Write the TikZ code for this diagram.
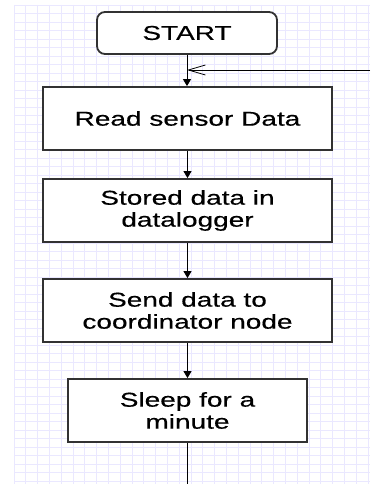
\documentclass[tikz,border=0pt]{standalone}
\usepackage{fontspec}
\usetikzlibrary{arrows.meta}
\newfontfamily\lab[FakeStretch=1.4,FakeBold=0.4]{Liberation Sans}
\definecolor{gridc}{RGB}{234,232,255}
\definecolor{boxc}{RGB}{50,50,50}
\tikzset{
  box/.style={draw=boxc, line width=1.8pt, fill=white, minimum height=63pt, inner sep=0pt, align=center,
    font=\lab\fontsize{20}{22}\selectfont},
  flow/.style={line width=0.9pt, -{Triangle[length=7pt,width=8pt]}},
  plain/.style={line width=0.9pt},
  back/.style={line width=0.8pt, -{Straight Barb[length=17pt,width=10pt,line width=0.8pt]}}
}
\begin{document}
\begin{tikzpicture}[x=1pt,y=-1pt]
\useasboundingbox (0,0) rectangle (370,484);
\fill[white] (0,0) rectangle (370,484);
% grid
\foreach \i in {0,...,30} { \draw[gridc, line width=0.7pt] (14+11.8*\i,5) -- (14+11.8*\i,484); }
\foreach \j in {0,...,56} { \draw[gridc, line width=0.7pt] (14,5+8.5*\j) -- (370,5+8.5*\j); }
% nodes
\node[box, rounded corners=8pt, minimum width=180pt, minimum height=42pt] (start) at (187,33) {START};
\node[box, minimum width=289pt] (read) at (187.5,118.5) {Read sensor Data};
\node[box, minimum width=289pt] (store) at (187.5,210.5) {Stored data in\\datalogger};
\node[box, minimum width=289pt] (send) at (187.5,310.5) {Send data to\\coordinator node};
\node[box, minimum width=239pt] (sleep) at (187.5,410.5) {Sleep for a\\minute};
\coordinate (join) at (187,70);
\coordinate (loopin) at (370,70);
\coordinate (down) at (187.5,484);
% connectors
\draw[flow] (start.south -| join) -- (read.north -| join);
\draw[back] (loopin) -- (join);
\draw[flow] (read) -- (store);
\draw[flow] (store) -- (send);
\draw[flow] (send) -- (sleep);
\draw[plain] (sleep) -- (down);
\end{tikzpicture}
\end{document}
